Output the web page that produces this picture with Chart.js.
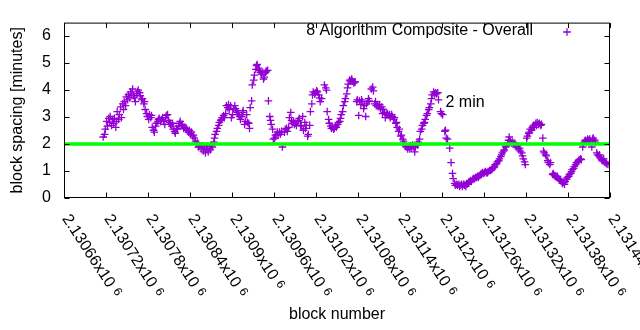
<!DOCTYPE html>
<html>
<head>
<meta charset="utf-8">
<title>block spacing</title>
<script src="https://cdn.jsdelivr.net/npm/chart.js@4.4.1/dist/chart.umd.min.js"></script>
<style>
  html, body { margin: 0; padding: 0; background: #fff; }
  #chart { display: block; }
</style>
</head>
<body>
<canvas id="chart" width="640" height="330"></canvas>
<script>
// block heights and the composite block spacing (minutes) at each of them
var blocks = [
  2130716,2130718,2130719,2130721,2130722,2130724,2130725,2130726,2130728,2130729,
  2130731,2130732,2130734,2130735,2130736,2130738,2130739,2130741,2130742,2130744,
  2130745,2130746,2130748,2130749,2130751,2130752,2130754,2130755,2130756,2130758,
  2130759,2130761,2130762,2130764,2130765,2130766,2130768,2130769,2130771,2130772,
  2130774,2130775,2130776,2130778,2130779,2130781,2130782,2130784,2130785,2130786,
  2130788,2130789,2130791,2130792,2130794,2130795,2130796,2130798,2130799,2130801,
  2130802,2130804,2130805,2130806,2130808,2130809,2130811,2130812,2130814,2130815,
  2130816,2130818,2130819,2130821,2130822,2130824,2130825,2130826,2130828,2130829,
  2130831,2130832,2130834,2130835,2130836,2130838,2130839,2130841,2130842,2130844,
  2130845,2130846,2130848,2130849,2130851,2130852,2130854,2130856,2130858,2130859,
  2130861,2130862,2130864,2130865,2130866,2130868,2130869,2130871,2130872,2130874,
  2130875,2130876,2130878,2130879,2130881,2130882,2130884,2130885,2130886,2130888,
  2130889,2130891,2130892,2130894,2130895,2130896,2130898,2130899,2130901,2130902,
  2130904,2130905,2130906,2130908,2130909,2130911,2130912,2130914,2130915,2130916,
  2130918,2130919,2130921,2130922,2130924,2130925,2130926,2130928,2130929,2130931,
  2130932,2130934,2130935,2130936,2130938,2130939,2130941,2130942,2130944,2130945,
  2130946,2130948,2130949,2130951,2130952,2130954,2130955,2130956,2130958,2130959,
  2130961,2130962,2130964,2130965,2130966,2130968,2130969,2130971,2130972,2130975,
  2130976,2130978,2130979,2130981,2130982,2130984,2130985,2130986,2130988,2130989,
  2130991,2130992,2130994,2130995,2130996,2130998,2130999,2131001,2131002,2131004,
  2131005,2131006,2131008,2131009,2131011,2131012,2131014,2131015,2131016,2131018,
  2131019,2131021,2131022,2131024,2131025,2131026,2131028,2131032,2131034,2131035,
  2131036,2131038,2131039,2131041,2131042,2131044,2131045,2131046,2131048,2131049,
  2131051,2131052,2131054,2131055,2131056,2131058,2131059,2131061,2131062,2131064,
  2131065,2131066,2131068,2131069,2131071,2131072,2131074,2131075,2131076,2131078,
  2131079,2131081,2131082,2131084,2131085,2131086,2131088,2131089,2131091,2131092,
  2131094,2131095,2131096,2131099,2131101,2131102,2131104,2131105,2131106,2131108,
  2131109,2131111,2131112,2131114,2131115,2131116,2131118,2131119,2131121,2131122,
  2131124,2131125,2131126,2131128,2131129,2131131,2131132,2131134,2131135,2131136,
  2131138,2131139,2131141,2131142,2131144,2131145,2131146,2131148,2131149,2131151,
  2131152,2131154,2131155,2131156,2131158,2131159,2131161,2131162,2131164,2131165,
  2131166,2131168,2131169,2131171,2131172,2131174,2131175,2131176,2131178,2131179,
  2131181,2131182,2131184,2131185,2131186,2131188,2131189,2131191,2131192,2131194,
  2131195,2131198,2131199,2131201,2131204,2131205,2131206,2131208,2131211,2131213,
  2131215,2131216,2131218,2131219,2131221,2131222,2131224,2131225,2131226,2131228,
  2131229,2131231,2131232,2131234,2131235,2131236,2131238,2131239,2131241,2131242,
  2131244,2131245,2131246,2131248,2131249,2131251,2131252,2131254,2131255,2131256,
  2131258,2131259,2131261,2131262,2131264,2131265,2131266,2131268,2131269,2131271,
  2131272,2131274,2131275,2131276,2131278,2131279,2131281,2131282,2131284,2131285,
  2131286,2131288,2131289,2131291,2131292,2131294,2131295,2131296,2131298,2131299,
  2131301,2131302,2131304,2131305,2131306,2131308,2131309,2131311,2131312,2131314,
  2131315,2131316,2131318,2131319,2131321,2131322,2131324,2131325,2131326,2131328,
  2131329,2131331,2131332,2131334,2131335,2131336,2131338,2131339,2131341,2131342,
  2131344,2131345,2131346,2131348,2131349,2131351,2131352,2131354,2131355,2131358,
  2131359,2131361,2131362,2131364,2131365,2131366,2131368,2131369,2131371,2131372,
  2131374,2131375,2131376,2131378,2131379,2131381,2131382,2131384,2131385,2131386,
  2131388,2131389,2131391,2131392,2131394,2131395,2131396,2131398,2131399,2131401,
  2131402,2131404,2131405,2131406,2131408,2131409,2131411,2131412,2131414,2131415,
  2131416,2131418,2131419,2131421,2131422,2131424,2131425,2131426,2131428,2131429,
  2131431,2131432,2131434,2131435,2131437
];
var spacing = [
  2.26,2.36,2.55,2.84,2.66,2.95,2.80,3.02,2.69,2.91,
  2.77,2.95,2.62,2.84,3.20,2.91,3.09,3.38,2.98,3.49,
  3.28,3.57,3.42,3.75,3.64,3.82,3.71,3.93,3.86,4.04,
  3.79,3.71,3.57,3.86,3.93,4.00,3.90,3.79,3.64,3.68,
  3.49,3.57,3.28,3.13,3.02,2.91,3.09,2.98,3.06,2.62,
  2.51,2.44,2.66,2.77,2.84,2.91,2.95,2.84,2.91,2.98,
  2.84,2.73,2.98,3.06,3.09,2.88,2.80,2.73,2.66,2.77,
  2.55,2.47,2.40,2.58,2.55,2.66,2.77,2.84,2.69,2.73,
  2.58,2.62,2.55,2.58,2.51,2.44,2.51,2.36,2.44,2.29,
  2.33,2.22,2.11,2.00,2.04,1.89,1.93,1.82,1.93,1.74,
  1.89,1.67,1.82,1.93,1.71,1.85,1.78,1.96,1.89,2.07,
  2.22,2.36,2.47,2.58,2.69,2.80,2.88,2.91,2.98,3.06,
  2.98,3.13,3.42,3.35,3.46,3.28,3.42,2.98,3.09,3.31,
  3.42,3.31,3.24,3.17,3.09,3.02,2.91,3.02,3.17,3.24,
  2.73,2.84,3.09,2.80,2.77,2.58,3.35,3.60,4.19,4.37,
  4.55,4.77,4.91,4.95,4.81,4.73,4.66,4.59,4.66,4.41,
  4.48,4.66,4.70,4.73,3.60,3.02,2.88,2.73,2.55,2.18,
  2.22,2.33,2.36,2.44,2.33,2.44,2.36,2.47,1.89,2.44,
  2.55,2.58,2.47,2.62,2.98,3.17,2.88,2.77,2.84,2.73,
  2.77,2.69,2.84,2.88,2.95,2.69,2.66,3.02,2.51,2.80,
  2.58,2.69,2.29,2.36,2.69,3.20,3.49,3.82,3.93,3.86,
  3.90,3.97,3.93,3.82,3.71,3.57,3.68,4.19,4.08,4.00,
  3.20,2.91,2.77,2.66,2.58,2.62,2.55,2.58,2.66,2.62,
  2.73,2.80,2.84,2.95,3.09,3.20,3.42,3.57,3.68,3.86,
  4.08,4.22,4.37,4.33,4.41,4.33,4.26,4.30,4.30,3.57,
  3.64,3.06,3.60,3.46,3.64,3.57,3.31,3.42,3.02,3.49,
  3.57,3.68,3.60,4.04,4.11,3.97,3.49,3.57,3.42,3.46,
  3.38,3.46,3.31,3.38,3.13,3.28,3.17,2.98,3.09,3.13,
  3.06,3.09,2.98,3.09,3.02,2.91,2.98,2.77,2.80,2.62,
  2.47,2.55,2.29,2.33,2.18,2.11,2.00,1.93,1.89,1.82,
  1.89,1.82,1.93,1.85,1.96,1.89,1.71,1.89,2.00,1.96,
  2.07,2.18,2.47,2.55,2.69,2.77,2.80,2.91,3.06,3.13,
  3.28,3.35,3.49,3.68,3.82,3.93,3.86,3.90,3.86,3.90,
  3.64,3.20,3.13,3.09,2.47,2.51,2.22,2.18,1.85,1.31,
  0.91,0.72,0.54,0.47,0.51,0.47,0.51,0.43,0.47,0.51,
  0.43,0.51,0.47,0.43,0.54,0.51,0.58,0.61,0.65,0.61,
  0.69,0.72,0.72,0.76,0.76,0.80,0.76,0.83,0.87,0.91,
  0.94,0.91,0.94,0.98,0.94,0.94,0.98,1.02,1.02,1.05,
  1.09,1.13,1.16,1.24,1.27,1.34,1.38,1.45,1.53,1.60,
  1.67,1.74,1.78,1.89,1.93,2.04,2.14,2.26,2.11,2.04,
  2.07,2.00,2.04,1.96,1.89,1.93,1.82,1.85,1.74,1.67,
  1.56,1.45,1.34,1.24,2.22,2.29,2.40,2.44,2.55,2.51,
  2.62,2.69,2.62,2.77,2.69,2.80,2.73,2.77,2.69,2.73,
  2.22,1.74,1.67,1.60,1.56,1.38,1.31,1.24,1.31,0.87,
  0.91,0.83,0.80,0.76,0.80,0.72,0.69,0.65,0.61,0.54,
  0.58,0.51,0.61,0.69,0.76,0.80,0.87,0.91,0.98,1.05,
  1.09,1.16,1.24,1.31,1.34,1.38,1.42,1.45,1.42,1.89,
  2.04,2.11,2.14,2.11,2.18,2.14,2.18,2.11,1.89,2.18,
  2.22,2.14,2.07,1.67,1.60,1.56,1.60,1.49,1.42,1.38,
  1.45,1.34,1.31,1.27,1.24
];

// axis ticks
var xTicks = [2130660,2130720,2130780,2130840,2130900,2130960,2131020,
              2131080,2131140,2131200,2131260,2131320,2131380,2131440];
var xTickLabels = ['2.13066','2.13072','2.13078','2.13084','2.1309','2.13096','2.13102',
                   '2.13108','2.13114','2.1312','2.13126','2.13132','2.13138','2.13144'];
var yTicks = [0, 1, 2, 3, 4, 5, 6];

var targetMinutes = 2;
var targetLabel = '2 min';
var seriesLabel = '8 Algorithm Composite - Overall';

var FONT = "'Liberation Sans', Arial, sans-serif";
var PURPLE = '#9400d3';
var TICK_LEN = 5;
var MARK = { pointStyle: 'cross', radius: 3.8, rotation: 0, borderWidth: 1.3 };

var points = [];
for (var i = 0; i < blocks.length; i++) {
  points.push({x: blocks[i], y: spacing[i]});
}

// border, inward ticks, rotated x labels, titles, key and the "2 min" note
var gnuplotLook = {
  id: 'gnuplotLook',
  afterDraw: function(chart) {
    var ctx = chart.ctx;
    var a = chart.chartArea;
    var xs = chart.scales.x, ys = chart.scales.y;
    var L = a.left + 0.5, R = a.right - 0.5, T = a.top + 0.5, B = a.bottom - 0.5;

    ctx.save();
    ctx.strokeStyle = '#000';
    ctx.lineWidth = 1;
    ctx.beginPath();
    xTicks.forEach(function(v) {
      var px = Math.round(xs.getPixelForValue(v)) + 0.5;
      ctx.moveTo(px, B); ctx.lineTo(px, B - TICK_LEN);
      ctx.moveTo(px, T); ctx.lineTo(px, T + TICK_LEN);
    });
    yTicks.forEach(function(v) {
      var py = Math.round(ys.getPixelForValue(v)) + 0.5;
      ctx.moveTo(L, py); ctx.lineTo(L + TICK_LEN, py);
      ctx.moveTo(R, py); ctx.lineTo(R - TICK_LEN, py);
    });
    ctx.stroke();
    ctx.strokeRect(L, T, R - L, B - T);

    ctx.fillStyle = '#000';

    // x tick labels, rotated clockwise, with a x10^6 exponent
    var ang = 57 * Math.PI / 180;
    xTicks.forEach(function(v, k) {
      var px = xs.getPixelForValue(v);
      ctx.save();
      ctx.translate(px + 1.5, 216);
      ctx.rotate(ang);
      ctx.textAlign = 'left';
      ctx.textBaseline = 'middle';
      ctx.font = '16px ' + FONT;
      var main = xTickLabels[k] + 'x10';
      ctx.fillText(main, 0, 0);
      var w = ctx.measureText(main).width;
      ctx.font = '12px ' + FONT;
      ctx.fillText('6', w + 5, -2);
      ctx.restore();
    });

    // axis titles
    ctx.font = '16px ' + FONT;
    ctx.textAlign = 'center';
    ctx.textBaseline = 'middle';
    ctx.fillText('block number', (a.left + a.right) / 2, 315);
    ctx.save();
    ctx.translate(18, (a.top + a.bottom) / 2);
    ctx.rotate(-Math.PI / 2);
    ctx.fillText('block spacing [minutes]', 0, 0);
    ctx.restore();

    // key: label plus the same cross the points use
    ctx.textAlign = 'right';
    ctx.fillText(seriesLabel, 533, 31);
    ctx.strokeStyle = PURPLE;
    ctx.lineWidth = MARK.borderWidth;
    Chart.helpers.drawPoint(ctx, MARK, 567, 32);

    // note next to the target line
    ctx.textAlign = 'left';
    ctx.fillText(targetLabel, xs.getPixelForValue(2131205), ys.getPixelForValue(3.53));
    ctx.restore();
  }
};

new Chart(document.getElementById('chart'), {
  type: 'scatter',
  data: {
    datasets: [
      {
        type: 'line',
        label: 'target',
        data: [{x: xTicks[0], y: targetMinutes}, {x: xTicks[xTicks.length - 1], y: targetMinutes}],
        borderColor: '#00ff00',
        borderWidth: 3.5,
        pointRadius: 0,
        fill: false,
        order: 0
      },
      {
        label: seriesLabel,
        data: points,
        pointStyle: MARK.pointStyle,
        pointRadius: MARK.radius,
        borderColor: PURPLE,
        backgroundColor: PURPLE,
        borderWidth: MARK.borderWidth,
        order: 1
      }
    ]
  },
  options: {
    responsive: false,
    animation: false,
    devicePixelRatio: 1,
    events: [],
    layout: { padding: { top: 19, right: 30, bottom: 0, left: 0 } },
    plugins: { legend: { display: false }, tooltip: { enabled: false } },
    scales: {
      x: {
        type: 'linear',
        min: xTicks[0],
        max: xTicks[xTicks.length - 1],
        grid: { display: false, drawTicks: false },
        border: { display: false },
        ticks: { display: false, stepSize: 60 },
        afterFit: function(s) { s.height = 132; }
      },
      y: {
        min: 0,
        max: 6.5,
        grid: { display: false, drawTicks: false },
        border: { display: false },
        ticks: {
          stepSize: 1,
          includeBounds: false,
          padding: 13,
          color: '#000',
          font: { family: FONT, size: 16 }
        },
        afterFit: function(s) { s.width = 64; }
      }
    }
  },
  plugins: [gnuplotLook]
});
</script>
</body>
</html>
